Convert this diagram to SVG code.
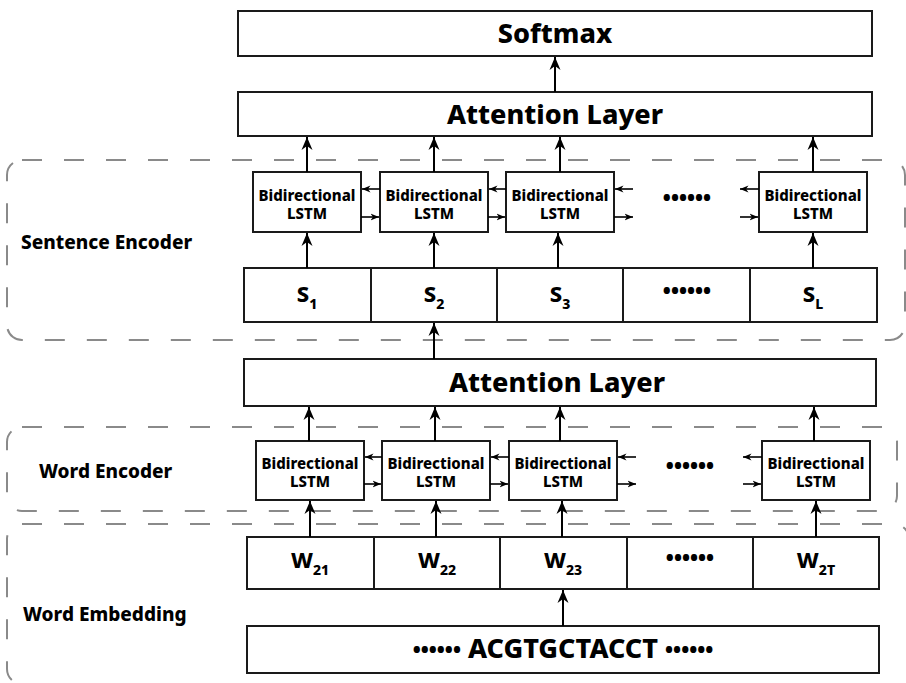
<svg xmlns="http://www.w3.org/2000/svg" width="906" height="683" viewBox="0 0 906 683">
<defs>
<style>
.box{fill:#fff;stroke:#1a1a1a;stroke-width:2}
.grp{fill:none;stroke:#8a8a8a;stroke-width:2;stroke-dasharray:20 22}
.t{font-family:"Noto Sans","Open Sans","DejaVu Sans",sans-serif;font-weight:800;fill:#000;text-anchor:middle}
.big{font-size:27px}
.lbl{font-size:19px;text-anchor:start}
.lstm{font-size:15px}
.cell{font-size:22px}
.sub{font-size:14px}
.dots{font-size:21px}
.arr{stroke:#000;stroke-width:2;fill:none;marker-end:url(#ah)}
.sarr{stroke:#000;stroke-width:1.6;fill:none;marker-end:url(#sh)}
</style>
<marker id="ah" markerUnits="userSpaceOnUse" markerWidth="14" markerHeight="12" refX="13" refY="6" orient="auto">
<path d="M0,0.5 L13,6 L0,11.5 L4,6 z" fill="#000"/>
</marker>
<marker id="sh" markerUnits="userSpaceOnUse" markerWidth="9" markerHeight="8" refX="8.5" refY="4" orient="auto">
<path d="M0,0.5 L8.5,4 L0,7.5 L2.5,4 z" fill="#000"/>
</marker>
</defs>

<g id="groups">
<rect class="grp" x="7" y="160" width="898" height="180" rx="15"/>
<rect class="grp" x="7" y="427" width="890" height="84" rx="15"/>
<rect class="grp" x="7" y="524" width="902" height="160" rx="15"/>
<text class="t lbl" x="21" y="249">Sentence Encoder</text>
<text class="t lbl" x="39" y="478">Word Encoder</text>
<text class="t lbl" x="23" y="621">Word Embedding</text>
</g>

<g id="softmax">
<rect class="box" x="238" y="11" width="634" height="45"/>
<text class="t big" x="555" y="43">Softmax</text>
</g>
<g id="attention-sentence">
<rect class="box" x="238" y="92" width="634" height="44"/>
<text class="t big" x="555" y="124">Attention Layer</text>
</g>

<g id="s-lstm-1"><rect class="box" x="253" y="172" width="108" height="60"/><text class="t lstm" x="307" y="201">Bidirectional</text><text class="t lstm" x="307" y="219">LSTM</text></g>
<g id="s-lstm-2"><rect class="box" x="380" y="172" width="108" height="60"/><text class="t lstm" x="434" y="201">Bidirectional</text><text class="t lstm" x="434" y="219">LSTM</text></g>
<g id="s-lstm-3"><rect class="box" x="506" y="172" width="108" height="60"/><text class="t lstm" x="560" y="201">Bidirectional</text><text class="t lstm" x="560" y="219">LSTM</text></g>
<g id="s-lstm-dots"><text class="t dots" x="687" y="206">••••••</text></g>
<g id="s-lstm-L"><rect class="box" x="759" y="172" width="108" height="60"/><text class="t lstm" x="813" y="201">Bidirectional</text><text class="t lstm" x="813" y="219">LSTM</text></g>

<g id="sentences">
<rect class="box" x="244" y="268" width="633" height="54"/>
<line x1="371" y1="268" x2="371" y2="322" stroke="#1a1a1a" stroke-width="2"/>
<line x1="497" y1="268" x2="497" y2="322" stroke="#1a1a1a" stroke-width="2"/>
<line x1="623" y1="268" x2="623" y2="322" stroke="#1a1a1a" stroke-width="2"/>
<line x1="750" y1="268" x2="750" y2="322" stroke="#1a1a1a" stroke-width="2"/>
<text class="t cell" x="307" y="302">S<tspan class="sub" dy="7">1</tspan></text>
<text class="t cell" x="434" y="302">S<tspan class="sub" dy="7">2</tspan></text>
<text class="t cell" x="560" y="302">S<tspan class="sub" dy="7">3</tspan></text>
<text class="t dots" x="687" y="299">••••••</text>
<text class="t cell" x="813" y="302">S<tspan class="sub" dy="7">L</tspan></text>
</g>

<g id="attention-word">
<rect class="box" x="244" y="359" width="632" height="47"/>
<text class="t big" x="557" y="392">Attention Layer</text>
</g>

<g id="w-lstm-1"><rect class="box" x="256" y="441" width="108" height="59"/><text class="t lstm" x="310" y="469">Bidirectional</text><text class="t lstm" x="310" y="487">LSTM</text></g>
<g id="w-lstm-2"><rect class="box" x="382" y="441" width="108" height="59"/><text class="t lstm" x="436" y="469">Bidirectional</text><text class="t lstm" x="436" y="487">LSTM</text></g>
<g id="w-lstm-3"><rect class="box" x="509" y="441" width="108" height="59"/><text class="t lstm" x="563" y="469">Bidirectional</text><text class="t lstm" x="563" y="487">LSTM</text></g>
<g id="w-lstm-dots"><text class="t dots" x="690" y="474">••••••</text></g>
<g id="w-lstm-T"><rect class="box" x="762" y="441" width="108" height="59"/><text class="t lstm" x="816" y="469">Bidirectional</text><text class="t lstm" x="816" y="487">LSTM</text></g>

<g id="words">
<rect class="box" x="247" y="537" width="632" height="52"/>
<line x1="374" y1="537" x2="374" y2="589" stroke="#1a1a1a" stroke-width="2"/>
<line x1="500" y1="537" x2="500" y2="589" stroke="#1a1a1a" stroke-width="2"/>
<line x1="627" y1="537" x2="627" y2="589" stroke="#1a1a1a" stroke-width="2"/>
<line x1="753" y1="537" x2="753" y2="589" stroke="#1a1a1a" stroke-width="2"/>
<text class="t cell" x="310" y="568">W<tspan class="sub" dy="7">21</tspan></text>
<text class="t cell" x="437" y="568">W<tspan class="sub" dy="7">22</tspan></text>
<text class="t cell" x="563" y="568">W<tspan class="sub" dy="7">23</tspan></text>
<text class="t dots" x="690" y="566">••••••</text>
<text class="t cell" x="816" y="568">W<tspan class="sub" dy="7">2T</tspan></text>
</g>

<g id="sequence">
<rect class="box" x="247" y="626" width="632" height="47"/>
<text class="t big" x="563" y="658"><tspan class="dots">••••••</tspan> ACGTGCTACCT <tspan class="dots">••••••</tspan></text>
</g>

<g id="connectors">
<line class="arr" x1="555" y1="92" x2="555" y2="57"/>
<line class="arr" x1="307" y1="172" x2="307" y2="137"/>
<line class="arr" x1="434" y1="172" x2="434" y2="137"/>
<line class="arr" x1="560" y1="172" x2="560" y2="137"/>
<line class="arr" x1="813" y1="172" x2="813" y2="137"/>
<line class="arr" x1="307" y1="268" x2="307" y2="233"/>
<line class="arr" x1="434" y1="268" x2="434" y2="233"/>
<line class="arr" x1="558" y1="268" x2="558" y2="233"/>
<line class="arr" x1="813" y1="268" x2="813" y2="233"/>
<line class="sarr" x1="380" y1="189" x2="362" y2="189"/>
<line class="sarr" x1="361" y1="217" x2="379" y2="217"/>
<line class="sarr" x1="506" y1="189" x2="489" y2="189"/>
<line class="sarr" x1="488" y1="217" x2="505" y2="217"/>
<line class="sarr" x1="633" y1="189" x2="615" y2="189"/>
<line class="sarr" x1="614" y1="217" x2="633" y2="217"/>
<line class="sarr" x1="759" y1="189" x2="740" y2="189"/>
<line class="sarr" x1="740" y1="217" x2="758" y2="217"/>
<line class="arr" x1="434" y1="359" x2="434" y2="323"/>
<line class="arr" x1="309" y1="441" x2="309" y2="407"/>
<line class="arr" x1="435" y1="441" x2="435" y2="407"/>
<line class="arr" x1="560" y1="441" x2="560" y2="407"/>
<line class="arr" x1="814" y1="441" x2="814" y2="407"/>
<line class="sarr" x1="382" y1="457" x2="365" y2="457"/>
<line class="sarr" x1="364" y1="484" x2="381" y2="484"/>
<line class="sarr" x1="509" y1="457" x2="491" y2="457"/>
<line class="sarr" x1="490" y1="484" x2="508" y2="484"/>
<line class="sarr" x1="636" y1="457" x2="618" y2="457"/>
<line class="sarr" x1="617" y1="484" x2="636" y2="484"/>
<line class="sarr" x1="762" y1="457" x2="743" y2="457"/>
<line class="sarr" x1="743" y1="484" x2="761" y2="484"/>
<line class="arr" x1="310" y1="537" x2="310" y2="501"/>
<line class="arr" x1="436" y1="537" x2="436" y2="501"/>
<line class="arr" x1="562" y1="537" x2="562" y2="501"/>
<line class="arr" x1="816" y1="537" x2="816" y2="501"/>
<line class="arr" x1="563" y1="626" x2="563" y2="590"/>
</g>
</svg>
